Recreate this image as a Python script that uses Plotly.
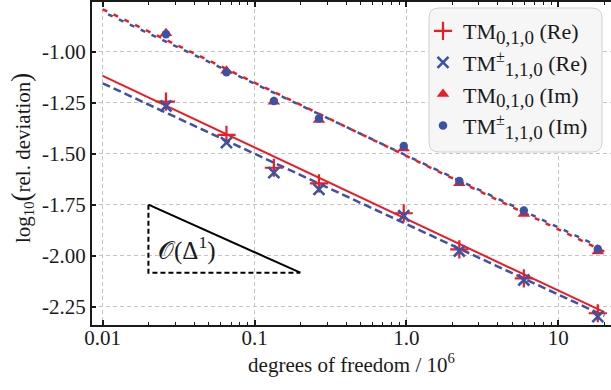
import numpy as np
import plotly.graph_objects as go

# ---- data ----
dof = [0.0261, 0.0653, 0.134, 0.2655, 0.96, 2.23, 5.93, 18.2]
re_010 = [-1.245, -1.408, -1.569, -1.645, -1.792, -1.969, -2.111, -2.282]
re_110 = [-1.266, -1.446, -1.593, -1.675, -1.804, -1.977, -2.119, -2.299]
im_010 = [-0.910, -1.093, -1.245, -1.335, -1.474, -1.645, -1.796, -1.980]
im_110 = [-0.915, -1.101, -1.242, -1.328, -1.462, -1.634, -1.779, -1.967]

fit_x = [0.01, 20.1]
fit_re_010 = [-1.119, -2.277]
fit_re_110 = [-1.155, -2.295]
fit_im_010 = [-0.792, -1.980]
fit_im_110 = [-0.804, -1.968]

tri_x = [0.02, 0.2]
tri_y = [-1.75, -2.0833]

x_tickvals = [0.01, 0.1, 1, 10]
x_ticktext = ["0.01", "0.1", "1.0", "10"]
y_tickvals = [-1.0, -1.25, -1.5, -1.75, -2.0, -2.25]
y_ticktext = ["-1.00", "-1.25", "-1.50", "-1.75", "-2.00", "-2.25"]

SUB = "<sub><span style='font-size:19px'>{}</span></sub>"
SUP = "<sup><span style='font-size:16px'>{}</span></sup>"
names = ["TM" + SUB.format("0,1,0") + " (Re)",
         "TM" + SUP.format("±") + SUB.format("1,1,0") + " (Re)",
         "TM" + SUB.format("0,1,0") + " (Im)",
         "TM" + SUP.format("±") + SUB.format("1,1,0") + " (Im)"]

RED = "#ec1c24"
BLUE = "#3a53a4"
FONT = "Liberation Serif"
INK = "#1a1a1a"

W, H = 611, 390
ML, MR, MT, MB = 92, 0, 2, 65
PW, PH = W - ML - MR, H - MT - MB

fig = go.Figure()

# fit lines
fig.add_trace(go.Scatter(x=fit_x, y=fit_re_110, mode="lines", showlegend=False,
                         line=dict(color=BLUE, width=2.5, dash="8px,4px")))
fig.add_trace(go.Scatter(x=fit_x, y=fit_re_010, mode="lines", showlegend=False,
                         line=dict(color=RED, width=2)))
fig.add_trace(go.Scatter(x=fit_x, y=fit_im_010, mode="lines", showlegend=False,
                         line=dict(color=RED, width=2.5, dash="5px,7px")))
fig.add_trace(go.Scatter(x=fit_x, y=fit_im_110, mode="lines", showlegend=False,
                         line=dict(color=BLUE, width=2.5, dash="0px,6px,5px,1px")))

# slope triangle
fig.add_trace(go.Scatter(x=tri_x, y=tri_y, mode="lines", showlegend=False,
                         line=dict(color="black", width=2)))
fig.add_trace(go.Scatter(x=[tri_x[0], tri_x[0], tri_x[1]],
                         y=[tri_y[0], tri_y[1], tri_y[1]], mode="lines",
                         showlegend=False,
                         line=dict(color="black", width=2, dash="5px,3px")))

# data markers
fig.add_trace(go.Scatter(x=dof, y=re_010, mode="markers", name=names[0],
                         marker=dict(symbol="cross-thin", size=13, color=RED,
                                     line=dict(color=RED, width=2.2))))
fig.add_trace(go.Scatter(x=dof, y=re_110, mode="markers", name=names[1],
                         marker=dict(symbol="x-thin", size=11, color=BLUE,
                                     line=dict(color=BLUE, width=2.6))))
fig.add_trace(go.Scatter(x=dof, y=im_010, mode="markers", name=names[2],
                         marker=dict(symbol="triangle-up", size=11, color=RED)))
fig.add_trace(go.Scatter(x=dof, y=im_110, mode="markers", name=names[3],
                         marker=dict(symbol="circle", size=8.5, color=BLUE)))

# legend rounded box
def px2paper(px, py):
    return (px - ML) / PW, (H - MB - py) / PH

x0, y0 = px2paper(429, 8)
x1, y1 = px2paper(602, 152)
rx, ry = 10 / PW, 10 / PH
path = (f"M {x0+rx},{y0} L {x1-rx},{y0} Q {x1},{y0} {x1},{y0-ry} "
        f"L {x1},{y1+ry} Q {x1},{y1} {x1-rx},{y1} L {x0+rx},{y1} "
        f"Q {x0},{y1} {x0},{y1+ry} L {x0},{y0-ry} Q {x0},{y0} {x0+rx},{y0} Z")
fig.add_shape(type="path", path=path, xref="paper", yref="paper", layer="above",
              fillcolor="#f6f6f6", line=dict(color="#cfcfcf", width=1))

lx, ly = px2paper(423, 10)
fig.update_layout(
    width=W, height=H,
    margin=dict(l=ML, r=MR, t=MT, b=MB, autoexpand=False),
    paper_bgcolor="white", plot_bgcolor="white",
    font=dict(family=FONT, size=21, color=INK),
    legend=dict(x=lx, y=ly, xanchor="left", yanchor="top",
                bgcolor="rgba(0,0,0,0)", borderwidth=0,
                font=dict(family=FONT, size=22, color=INK)),
    xaxis=dict(type="log", range=[-2.0705, 1.347], automargin=False,
               tickvals=x_tickvals, ticktext=x_ticktext, ticklabelstandoff=-7,
               ticks="inside", ticklen=5, tickwidth=1.5, tickcolor=INK,
               showline=True, linewidth=2, linecolor=INK, mirror="allticks",
               showgrid=True, gridcolor="#c4c4c4", griddash="4px,3px", gridwidth=1,
               zeroline=False,
               minor=dict(tickvals=[m * 10.0 ** e for e in range(-2, 2) for m in range(2, 10)],
                          ticks="inside", ticklen=3, tickwidth=1, tickcolor=INK,
                          showgrid=False),
               title=dict(text="degrees of freedom / 10<sup>6</sup>",
                          font=dict(size=21), standoff=6)),
    yaxis=dict(range=[-2.3397, -0.7564], automargin=False,
               tickvals=y_tickvals, ticktext=y_ticktext,
               ticks="inside", ticklen=4, tickwidth=1.5, tickcolor=INK,
               showline=True, linewidth=2, linecolor=INK, mirror=False,
               showgrid=True, gridcolor="#c4c4c4", griddash="4px,3px", gridwidth=1,
               zeroline=False),
    yaxis2=dict(overlaying="y", side="right", range=[-2.3397, -0.7564], automargin=False,
                tickvals=y_tickvals, ticks="inside", ticklen=4, tickwidth=1.5,
                tickcolor=INK, showticklabels=False, showline=False,
                showgrid=False, zeroline=False),
)

fig.add_annotation(text="log<sub>10</sub><span style='font-size:27px'>(</span>rel. deviation"
                        "<span style='font-size:27px'>)</span>",
                   xref="paper", yref="paper",
                   x=(21 - ML) / PW, y=(H - MB - 158) / PH, textangle=-90,
                   showarrow=False, xanchor="center", yanchor="middle",
                   font=dict(family=FONT, size=21, color=INK))

fig.add_annotation(text="𝒪(Δ<sup>1</sup>)", x=np.log10(0.0226), y=-1.965,
                   xref="x", yref="y", showarrow=False, xanchor="left", yanchor="middle",
                   font=dict(family=FONT, size=25, color=INK))

fig.write_html("out.html", config={"displayModeBar": False},
               post_script="document.body.style.margin='0';document.body.style.overflow='hidden';")
